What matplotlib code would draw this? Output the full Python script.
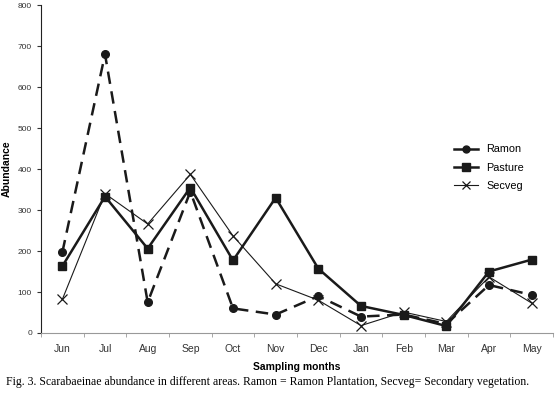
import matplotlib.pyplot as plt
from matplotlib.lines import Line2D
import numpy as np

months = ['Jun', 'Jul', 'Aug', 'Sep', 'Oct', 'Nov', 'Dec', 'Jan', 'Feb', 'Mar', 'Apr', 'May']
ramon = [197, 680, 75, 345, 60, 45, 90, 40, 45, 22, 117, 93]
pasture = [163, 333, 206, 355, 177, 330, 157, 66, 44, 17, 150, 179]
secveg = [82, 340, 266, 387, 237, 120, 80, 18, 51, 28, 137, 73]

plt.rcParams['font.family'] = ['Liberation Sans', 'DejaVu Sans']

fig = plt.figure(figsize=(5.58, 3.95), dpi=100)
ax = fig.add_axes([0.0735, 0.157, 0.9175, 0.83])

x = np.arange(len(months))
ink = '#1a1a1a'
ax.plot(x, ramon, color=ink, lw=1.8, dashes=(5, 3), marker='o', ms=5.5)
ax.plot(x, pasture, color=ink, lw=1.8, marker='s', ms=6)
ax.plot(x, secveg, color=ink, lw=0.8, marker='x', ms=7, mew=0.9)

ax.set_xlim(-0.5, len(months) - 0.5)
ax.set_ylim(0, 800)
ax.set_yticks(range(0, 801, 100))
ax.tick_params(axis='y', labelsize=6, length=3, direction='out', colors='#333333')
ax.set_xticks(x)
ax.set_xticklabels(months)
ax.set_xticks(np.arange(-0.5, len(months), 1), minor=True)
ax.tick_params(axis='x', which='major', length=0, labelsize=7.5, pad=8, colors='#333333')
ax.tick_params(axis='x', which='minor', length=3, direction='out', color='#999999')
for s in ['top', 'right']:
    ax.spines[s].set_visible(False)
ax.spines['bottom'].set_color('#999999')
ax.spines['left'].set_color('#222222')

ax.set_xlabel('Sampling months', fontsize=7.5, fontweight='bold', labelpad=6)
ax.set_ylabel('Abundance', fontsize=7.5, fontweight='bold')
ax.yaxis.set_label_coords(-0.058, 0.5)

handles = [
    Line2D([], [], color=ink, lw=1.8, marker='o', ms=5),
    Line2D([], [], color=ink, lw=1.8, marker='s', ms=5.5),
    Line2D([], [], color=ink, lw=0.8, marker='x', ms=6, mew=0.9),
]
ax.legend(handles, ['Ramon', 'Pasture', 'Secveg'], loc='upper left',
          bbox_to_anchor=(0.787, 0.605), frameon=False, fontsize=7.8,
          handlelength=2.2, labelspacing=0.75)

fig.text(0.01, 0.025, 'Fig. 3. Scarabaeinae abundance in different areas. Ramon = Ramon Plantation, '
         'Secveg= Secondary vegetation.', fontsize=8.5, family='Liberation Serif')

fig.savefig('out.png', dpi=100)
